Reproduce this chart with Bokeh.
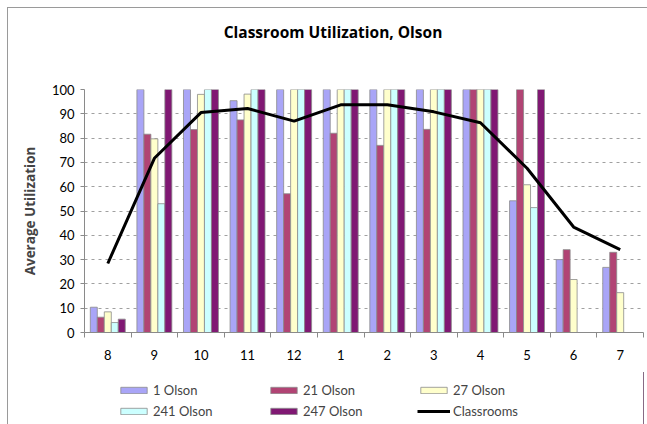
from bokeh.plotting import figure
from bokeh.models import (ColumnDataSource, FixedTicker, Legend, LegendItem, Div)
from bokeh.layouts import column
from bokeh.transform import dodge
from bokeh.embed import file_html
from bokeh.resources import INLINE

title_text = "Classroom Utilization, Olson"
hours = ["8", "9", "10", "11", "12", "1", "2", "3", "4", "5", "6", "7"]
olson_1 = [10.4, 100, 100, 95.4, 100, 100, 100, 100, 100, 54.2, 30.0, 26.8]
olson_21 = [6.3, 81.6, 83.5, 87.5, 57.1, 82.0, 77.0, 83.6, 100, 100, 34.1, 33.0]
olson_27 = [8.5, 79.7, 98.0, 98.1, 100, 100, 100, 100, 100, 60.8, 21.8, 16.4]
olson_241 = [4.1, 53.0, 100, 100, 100, 100, 100, 100, 100, 51.4, 0, 0]
olson_247 = [5.5, 100, 100, 100, 100, 100, 100, 100, 100, 100, 0, 0]
classrooms = [28.4, 71.7, 90.5, 92.2, 87.0, 93.7, 93.7, 90.8, 86.3, 67.6, 43.4, 34.1]
y_ticks = list(range(0, 101, 10))

series_names = ["1 Olson", "21 Olson", "27 Olson", "241 Olson", "247 Olson"]
series_values = [olson_1, olson_21, olson_27, olson_241, olson_247]
colors = ["#A9A5F7", "#B14474", "#FFFFCC", "#CCFFFF", "#801873"]
line_name = "Classrooms"

pos = list(range(1, len(hours) + 1))
data = {"x": pos, "classrooms": classrooms}
for i, v in enumerate(series_values):
    data["s%d" % i] = v
src = ColumnDataSource(data)

FONT = "Lato"
BOLD = "Open Sans"
OUTLINE = "#8a8a8a"

title = Div(text=title_text, width=639, height=48, margin=0,
            styles={"text-align": "center", "font-family": BOLD,
                    "font-weight": "bold", "font-size": "15.5px",
                    "line-height": "48px", "padding-left": "11px",
                    "box-sizing": "border-box", "color": "black"})

p = figure(width=639, height=316, x_range=(0.5, 12.5), y_range=(0, 100),
           output_backend="svg", toolbar_location=None,
           min_border_left=76, min_border_right=4, min_border_top=33,
           min_border_bottom=40)
p.outline_line_color = None

bw = 0.15
offsets = [-0.3, -0.15, 0.0, 0.15, 0.3]
for i in range(5):
    p.vbar(x=dodge("x", offsets[i]), top="s%d" % i, width=bw, bottom=0,
           source=src, fill_color=colors[i], line_color=OUTLINE, line_width=0.8)
p.line(x="x", y="classrooms", source=src, line_color="black",
       line_width=3, line_join="round")

# axes
p.xaxis.ticker = FixedTicker(ticks=pos, minor_ticks=[k + 0.5 for k in range(0, 13)])
p.xaxis.major_label_overrides = {k: h for k, h in zip(pos, hours)}
p.xaxis.major_tick_line_color = None
p.xaxis.major_tick_out = 0
p.xaxis.minor_tick_out = 5
p.xaxis.minor_tick_in = 0
p.xaxis.minor_tick_line_color = OUTLINE
p.xaxis.axis_line_color = OUTLINE
p.xaxis.major_label_standoff = 12
p.xaxis.major_label_text_font = FONT
p.xaxis.major_label_text_font_size = "13px"
p.xaxis.major_label_text_color = "black"

p.yaxis.ticker = FixedTicker(ticks=y_ticks)
p.yaxis.axis_line_color = OUTLINE
p.yaxis.major_tick_line_color = OUTLINE
p.yaxis.major_tick_out = 4
p.yaxis.major_tick_in = 0
p.yaxis.minor_tick_line_color = None
p.yaxis.major_label_standoff = 6
p.yaxis.major_label_text_font = FONT
p.yaxis.major_label_text_font_size = "13px"
p.yaxis.major_label_text_color = "black"
p.yaxis.axis_label = "Average Utilization"
p.yaxis.axis_label_text_font = BOLD
p.yaxis.axis_label_text_font_style = "bold"
p.yaxis.axis_label_text_font_size = "13.5px"
p.yaxis.axis_label_standoff = 10

p.xgrid.grid_line_color = None
p.ygrid.ticker = FixedTicker(ticks=y_ticks)
p.ygrid.grid_line_color = "#a0a0a0"
p.ygrid.grid_line_dash = "3 4"
p.ygrid.grid_line_width = 1

# legend strip below the chart; its renderers reuse the chart's styles but lie
# outside the strip's visible range, so only the legend is shown
lf = figure(width=639, height=52, x_range=(-20, -19), y_range=(0, 1),
            output_backend="svg", toolbar_location=None,
            min_border_left=0, min_border_right=0, min_border_top=0,
            min_border_bottom=0, x_axis_location=None, y_axis_location=None)
lf.grid.visible = False
lf.outline_line_color = None
items = []
for i, (n, c) in enumerate(zip(series_names, colors)):
    r = lf.vbar(x="x", top="s%d" % i, width=bw, source=src, fill_color=c,
                line_color=OUTLINE, line_width=0.8)
    items.append(LegendItem(label=n, renderers=[r]))
rl = lf.line(x="x", y="classrooms", source=src, line_color="black", line_width=3)
items.append(LegendItem(label=line_name, renderers=[rl]))
legend = Legend(items=items, location=(33, 3), orientation="horizontal", ncols=3,
                glyph_width=33, glyph_height=8, label_standoff=3, label_width=114,
                label_height=21, spacing=0, padding=0, margin=0,
                border_line_color=None, background_fill_alpha=0,
                label_text_font=FONT, label_text_font_size="13px")
lf.add_layout(legend, "center")

layout = column(title, p, lf, margin=(7, 0, 0, 7), spacing=0,
                styles={"border-top": "1px solid #9a9a9a",
                        "border-left": "1px solid #9a9a9a"})

open("out.html", "w").write(file_html(layout, INLINE))
